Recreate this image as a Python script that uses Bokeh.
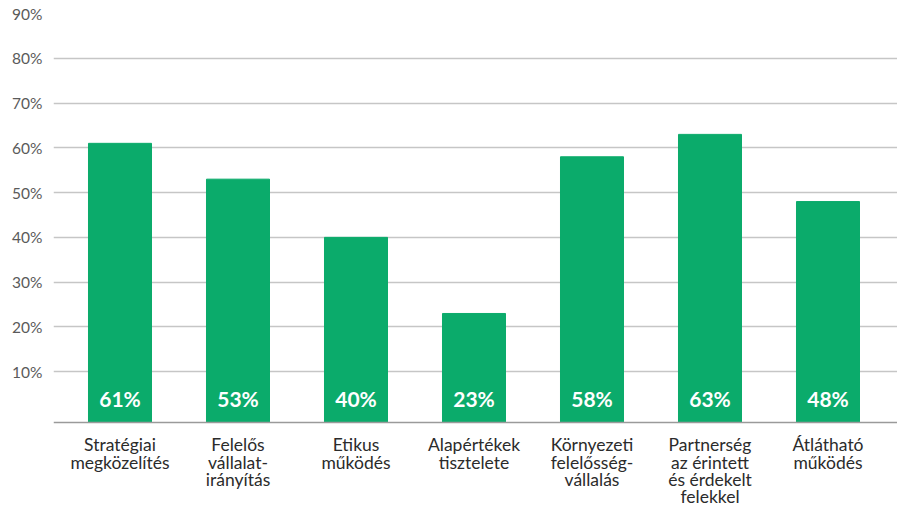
from bokeh.plotting import figure
from bokeh.models import Range1d, FixedTicker, ColumnDataSource, Span
from bokeh.embed import file_html
from bokeh.resources import INLINE
from bokeh.core.properties import value

categories = ["Stratégiai\nmegközelítés", "Felelős\nvállalat-\nirányítás", "Etikus\nműködés",
              "Alapértékek\ntisztelete", "Környezeti\nfelelősség-\nvállalás",
              "Partnerség\naz érintett\nés érdekelt\nfelekkel", "Átlátható\nműködés"]
values = [61, 53, 40, 23, 58, 63, 48]
y_ticks = [10, 20, 30, 40, 50, 60, 70, 80, 90]

FONT = "Lato"
GREEN = "#0bab6b"

xs = list(range(len(categories)))
base = -1.35
src = ColumnDataSource(dict(x=xs, top=values, bottom=[base] * len(xs),
                            lab=[f"{v}%" for v in values], ly=[3.9] * len(xs),
                            cat=categories, cy=[-4.0] * len(xs)))

p = figure(width=897, height=506, output_backend="svg", toolbar_location=None,
           x_range=Range1d(-0.5636, 6.589), y_range=Range1d(-20.11, 90),
           min_border_left=53, min_border_right=0, min_border_top=13, min_border_bottom=0)
p.outline_line_color = None
p.background_fill_color = "white"

p.vbar(x="x", top="top", bottom="bottom", width=0.534, color=GREEN, source=src)
p.text(x="x", y="ly", text="lab", source=src, text_align="center", text_baseline="middle",
       text_color="white", text_font=value(FONT), text_font_style="bold", text_font_size="21px")
p.text(x="x", y="cy", text="cat", source=src, text_align="center", text_baseline="top",
       text_color="#2b2b2b", text_font=value(FONT), text_font_size="17.5px",
       text_line_height=0.82)

p.add_layout(Span(location=base, dimension="width", line_color="#9a9a9a", line_width=1.5))

# axes
p.yaxis.ticker = FixedTicker(ticks=y_ticks)
p.yaxis.major_label_overrides = {t: f"{t}%" for t in y_ticks}
p.yaxis.axis_line_color = None
p.yaxis.major_tick_line_color = None
p.yaxis.minor_tick_line_color = None
p.yaxis.major_label_standoff = 5
p.yaxis.major_label_text_font = FONT
p.yaxis.major_label_text_font_size = "15.5px"
p.yaxis.major_label_text_color = "#5a5a5a"

p.xaxis.visible = False

p.xgrid.grid_line_color = None
p.ygrid.grid_line_color = "#c6c6c6"
p.ygrid.grid_line_width = 1.5

open("out.html", "w").write(file_html(p, INLINE))
